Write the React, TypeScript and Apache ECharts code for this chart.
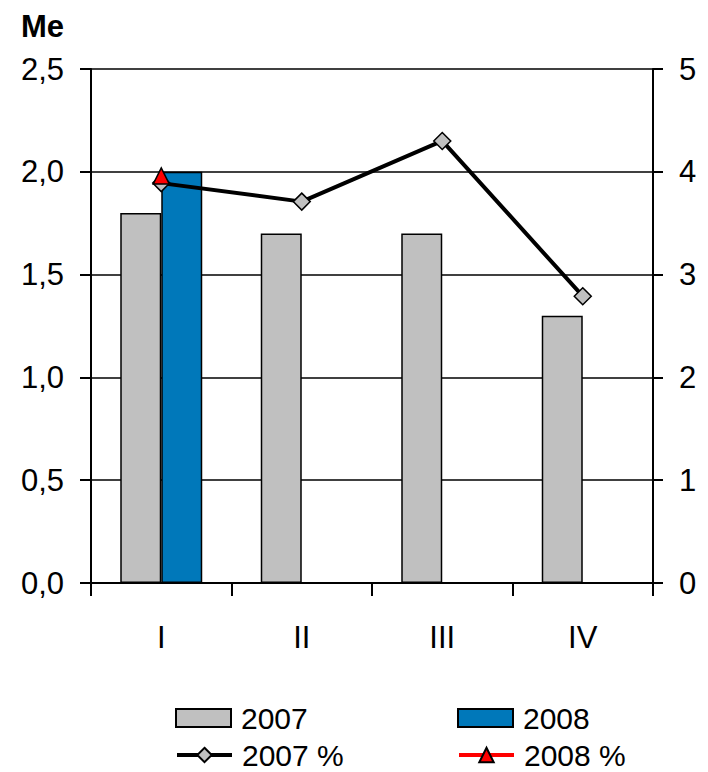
import React, { useEffect, useRef } from "react";
import * as echarts from "echarts";

const categories = ["I", "II", "III", "IV"];
const bars2007 = [1.8, 1.7, 1.7, 1.3];
const bars2008 = [2.0, null, null, null];
const pct2007 = [3.89, 3.71, 4.3, 2.79];
const pct2008 = [3.96, null, null, null];
const leftTicks = { min: 0, max: 2.5, interval: 0.5 };
const rightTicks = { min: 0, max: 5, interval: 1 };

const FONT = "Liberation Sans, Arial, Helvetica, sans-serif";

export default function App() {
  const ref = useRef<HTMLDivElement>(null);
  useEffect(() => {
    if (!ref.current) return;
    const chart = echarts.init(ref.current, undefined, { renderer: "svg" });
    const axisLabel = { color: "#000", fontSize: 31, fontFamily: FONT };
    const legendItem = (name: string, left: number, top: number, icon?: string) => ({
      left,
      top,
      orient: "horizontal",
      data: [icon ? { name, icon } : name],
      itemWidth: 55,
      itemHeight: 18,
      lineStyle: { width: 4 },
      textStyle: {
        fontSize: 30,
        lineHeight: 28,
        color: "#000",
        fontFamily: FONT,
        padding: [0, 0, 0, 5],
      },
    });
    chart.setOption({
      animation: false,
      backgroundColor: "#fff",
      textStyle: { fontFamily: FONT },
      grid: { left: 91, right: 55, top: 69, bottom: 189 },
      graphic: [
        {
          type: "text",
          left: 21,
          top: 11,
          style: { text: "Me", fontSize: 31, fontWeight: "bold", fontFamily: FONT, fill: "#000" },
        },
      ],
      legend: [
        legendItem("2007", 170, 698, "rect"),
        legendItem("2008", 452, 698, "rect"),
        legendItem("2007 %", 170, 735),
        legendItem("2008 %", 452, 735),
      ],
      xAxis: {
        type: "category",
        data: categories,
        boundaryGap: true,
        axisLine: { lineStyle: { color: "#000", width: 2 } },
        axisTick: { show: true, length: 13, lineStyle: { color: "#000", width: 2 } },
        axisLabel: { ...axisLabel, margin: 39 },
      },
      yAxis: [
        {
          type: "value",
          ...leftTicks,
          position: "left",
          axisLine: { show: true, lineStyle: { color: "#000", width: 2 } },
          axisTick: { show: true, length: 11, lineStyle: { color: "#000", width: 2 } },
          splitLine: { show: true, lineStyle: { color: "#000", width: 1.5 } },
          axisLabel: {
            ...axisLabel,
            margin: 27,
            formatter: (v: number) => v.toFixed(1).replace(".", ","),
          },
        },
        {
          type: "value",
          ...rightTicks,
          position: "right",
          axisLine: { show: true, lineStyle: { color: "#000", width: 2 } },
          axisTick: { show: true, length: 10, lineStyle: { color: "#000", width: 2 } },
          splitLine: { show: false },
          axisLabel: { ...axisLabel, margin: 26 },
        },
      ],
      series: [
        {
          name: "2007",
          type: "bar",
          data: bars2007,
          barWidth: 41,
          barGap: "0%",
          itemStyle: { color: "#C0C0C0", borderColor: "#000", borderWidth: 1.5 },
        },
        {
          name: "2008",
          type: "bar",
          data: bars2008,
          barWidth: 41,
          barGap: "0%",
          itemStyle: { color: "#0078BA", borderColor: "#000", borderWidth: 1.5 },
        },
        {
          name: "2007 %",
          type: "line",
          yAxisIndex: 1,
          data: pct2007,
          symbol: "diamond",
          symbolSize: 17,
          lineStyle: { color: "#000", width: 4 },
          itemStyle: { color: "#C0C0C0", borderColor: "#000", borderWidth: 1.5 },
          z: 3,
        },
        {
          name: "2008 %",
          type: "line",
          yAxisIndex: 1,
          data: pct2008,
          symbol: "triangle",
          symbolSize: 16,
          lineStyle: { color: "#FF0000", width: 4 },
          itemStyle: { color: "#FF0000", borderColor: "#000", borderWidth: 1.5 },
          z: 4,
        },
      ],
    });
    return () => chart.dispose();
  }, []);
  return (
    <div
      ref={ref}
      style={{ position: "fixed", left: 0, top: 0, width: 708, height: 772 }}
    />
  );
}
